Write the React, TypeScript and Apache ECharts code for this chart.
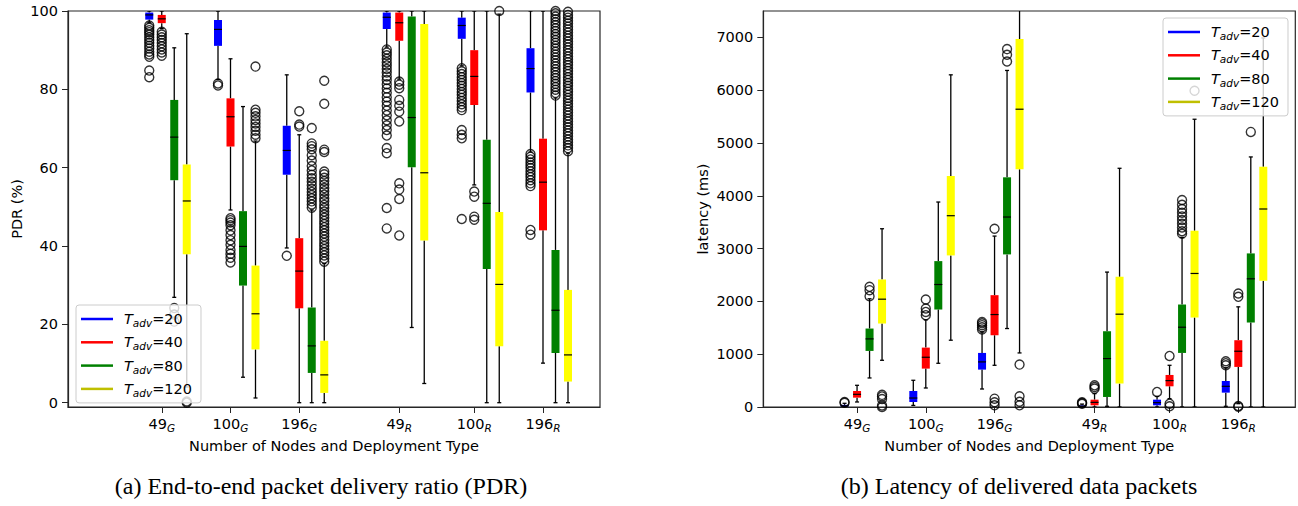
import React, { useEffect, useRef } from 'react';
import * as echarts from 'echarts';

// ---------- categories / positions ----------
const groupNums = ['49', '100', '196', '49', '100', '196'];
const groupSubs = ['G', 'G', 'G', 'R', 'R', 'R'];
const groupPos = [7.5, 13, 18.5, 26.5, 32.5, 38];
const seriesOffset = [-1, 0, 1, 2];
const tadv = ['20', '40', '80', '120'];
const boxColors = ['#0000ff', '#ff0000', '#008000', '#ffff00'];
const legendColors = ['#0000ff', '#ff0000', '#008000', '#bfbf00'];
const pdrTicks = [0, 20, 40, 60, 80, 100];
const latTicks = [0, 1000, 2000, 3000, 4000, 5000, 6000, 7000];

// ---------- PDR (%) boxes: [low, q1, median, q3, high] per group ----------
const pdrBox20 = [
  [97.0, 97.8, 99.0, 99.6, 100],
  [82.5, 91.1, 95.3, 97.7, 100],
  [39.5, 58.2, 64.4, 70.7, 83.7],
  [90.8, 95.4, 98.4, 99.6, 100],
  [86.0, 92.9, 96.3, 98.3, 100],
  [64.0, 79.2, 85.3, 90.5, 100],
];
const pdrBox40 = [
  [95.5, 96.9, 98.0, 99.0, 100],
  [49.2, 65.4, 73.0, 77.7, 87.8],
  [0, 24.1, 33.6, 42.0, 68.4],
  [82.6, 92.4, 97.0, 99.6, 100],
  [55.6, 76.0, 83.3, 90.0, 100],
  [10.1, 44.0, 56.3, 67.4, 100],
];
const pdrBox80 = [
  [26.9, 56.8, 67.8, 77.3, 90.6],
  [6.5, 29.9, 39.9, 48.9, 75.6],
  [0, 7.6, 14.5, 24.3, 49.2],
  [19.2, 60.1, 72.8, 98.6, 100],
  [0, 34.1, 50.9, 67.1, 100],
  [0, 12.7, 23.6, 39.0, 77.8],
];
const pdrBox120 = [
  [4.0, 37.9, 51.5, 60.8, 94.2],
  [1.2, 13.6, 22.7, 35.0, 66.8],
  [0, 2.5, 7.1, 15.8, 35.5],
  [4.9, 41.4, 58.7, 96.7, 100],
  [0, 14.4, 30.2, 48.7, 99.2],
  [0, 5.4, 12.2, 28.8, 63.7],
];

// ---------- PDR outliers per group ----------
const pdrOut20 = [
  [96.3, 95.7, 95.1, 94.6, 94.0, 93.3, 92.6, 91.9, 91.1, 90.4, 89.6, 88.9, 88.3, 84.8, 83.1],
  [81.5, 81.0],
  [37.5],
  [90.2, 89.4, 88.7, 87.8, 86.9, 86.1, 85.2, 84.3, 83.3, 82.4, 81.3, 80.2, 79.1, 78.0, 76.9, 75.8, 74.6, 73.4, 72.1, 70.8, 69.6, 68.2, 65.0, 63.7, 49.7, 44.5],
  [85.4, 84.6, 83.9, 83.1, 82.4, 81.6, 80.9, 80.1, 79.3, 78.6, 77.8, 77.0, 76.2, 75.4, 74.7, 69.6, 68.4, 67.5, 46.9],
  [63.5, 62.8, 62.1, 61.3, 60.6, 59.9, 59.1, 58.3, 57.6, 56.8, 56.0, 55.3, 44.1, 42.9],
];
const pdrOut40 = [
  [94.7, 94.0, 93.3, 92.6, 91.8, 91.0, 90.2, 89.4, 88.6],
  [47.1, 46.6, 46.0, 45.3, 44.0, 42.8, 41.5, 40.3, 39.0, 38.0, 37.0, 35.8],
  [74.4, 71.0, 70.5],
  [82.0, 81.2, 80.3, 77.3, 75.8, 74.3, 71.8, 56.0, 54.4, 52.0, 42.7],
  [53.9, 52.6, 47.5, 46.7],
  [],
];
const pdrOut80 = [
  [24.2, 22.5, 20.7],
  [],
  [70.1, 66.2, 65.5, 64.7, 63.2, 61.8, 60.4, 59.3, 58.2, 57.3, 56.4, 55.5, 54.6, 53.8, 53.0, 52.2, 51.4, 50.6, 49.8],
  [],
  [],
  [78.4, 79.1, 79.9, 80.6, 81.4, 82.1, 82.9, 83.6, 84.4, 85.1, 85.9, 86.6, 87.4, 88.1, 88.9, 89.6, 90.4, 91.1, 91.9, 92.6, 93.4, 94.1, 94.9, 95.6, 96.4, 97.1, 97.9, 98.6, 99.4, 100],
];
const pdrOut120 = [
  [0.0, 0.3],
  [85.8, 74.8, 74.0, 73.1, 72.2, 71.3, 70.4, 69.4, 68.4, 67.5],
  [82.2, 76.3, 64.6, 64.0, 59.0, 58.3, 57.4, 56.6, 55.7, 54.8, 54.0, 53.1, 52.2, 51.4, 50.5, 49.7, 48.8, 48.0, 47.2, 46.4, 45.6, 44.8, 44.0, 43.2, 42.4, 41.6, 40.8, 40.0, 39.2, 38.4, 37.6, 36.8, 36.0],
  [],
  [100],
  [64.2, 65.0, 65.7, 66.5, 67.2, 68.0, 68.8, 69.5, 70.3, 71.0, 71.8, 72.5, 73.3, 74.1, 74.8, 75.6, 76.3, 77.1, 77.8, 78.6, 79.4, 80.1, 80.9, 81.6, 82.4, 83.1, 83.9, 84.7, 85.4, 86.2, 86.9, 87.7, 88.4, 89.2, 90.0, 90.7, 91.5, 92.2, 93.0, 93.7, 94.5, 95.3, 96.0, 96.8, 97.5, 98.3, 99.0, 99.8],
];

// ---------- Latency (ms) boxes ----------
const latBox20 = [
  [0, 8, 20, 40, 70],
  [30, 95, 170, 303, 506],
  [341, 708, 854, 1024, 1420],
  [0, 5, 15, 30, 55],
  [0, 32, 82, 139, 200],
  [13, 272, 392, 493, 740],
];
const latBox40 = [
  [95, 177, 240, 303, 411],
  [360, 727, 942, 1125, 1650],
  [790, 1359, 1751, 2118, 3237],
  [0, 32, 88, 139, 253],
  [158, 392, 500, 607, 790],
  [63, 759, 1056, 1265, 1897],
];
const latBox80 = [
  [550, 1062, 1290, 1486, 2050],
  [828, 1846, 2320, 2763, 3882],
  [1486, 2890, 3598, 4350, 6374],
  [13, 190, 917, 1435, 2555],
  [0, 1024, 1511, 1941, 3212],
  [0, 1600, 2428, 2909, 4736],
];
const latBox120 = [
  [885, 1581, 2042, 2415, 3376],
  [1265, 2871, 3623, 4375, 6291],
  [1024, 4502, 5640, 6968, 7700],
  [0, 443, 1758, 2466, 4521],
  [0, 1695, 2529, 3339, 5450],
  [0, 2390, 3750, 4552, 6990],
];

// ---------- Latency outliers ----------
const latOut20 = [[80, 95], [], [1470, 1510, 1550, 1585, 1612], [60, 75, 90], [285], [790, 830, 866]];
const latOut40 = [[], [1739, 1800, 1865, 2036], [3376, 158, 90, 32], [348, 380, 411], [967, 63, 13], [2087, 2150, 20, 5]];
const latOut80 = [[2099, 2213, 2276], [], [6544, 6671, 6778], [], [3280, 3330, 3400, 3470, 3540, 3610, 3680, 3750, 3830, 3920], [5210]];
const latOut120 = [[0, 30, 150, 200, 230], [], [803, 202, 100, 32], [], [5990], []];

const pdrBoxes = [pdrBox20, pdrBox40, pdrBox80, pdrBox120];
const pdrOuts = [pdrOut20, pdrOut40, pdrOut80, pdrOut120];
const latBoxes = [latBox20, latBox40, latBox80, latBox120];
const latOuts = [latOut20, latOut40, latOut80, latOut120];

const FONT = 'DejaVu Sans';
const FS = 14.5;
const SUB_FS = 10.5;
const AXIS_COLOR = '#262626';
const BOX_W = 0.64;

const seriesName = (i: number) => 'T' + tadv[i];

const renderBox = (color: string) => (params: any, api: any) => {
  const x = api.value(0);
  const pLo = api.coord([x, api.value(1)]);
  const pQ1 = api.coord([x, api.value(2)]);
  const pMed = api.coord([x, api.value(3)]);
  const pQ3 = api.coord([x, api.value(4)]);
  const pHi = api.coord([x, api.value(5)]);
  const w = api.size([BOX_W, 0])[0];
  const cx = pLo[0];
  const st = { stroke: '#000', lineWidth: 1.3 };
  return {
    type: 'group',
    children: [
      { type: 'line', shape: { x1: cx, y1: pLo[1], x2: cx, y2: pQ1[1] }, style: st },
      { type: 'line', shape: { x1: cx, y1: pQ3[1], x2: cx, y2: pHi[1] }, style: st },
      { type: 'line', shape: { x1: cx - w / 4, y1: pLo[1], x2: cx + w / 4, y2: pLo[1] }, style: st },
      { type: 'line', shape: { x1: cx - w / 4, y1: pHi[1], x2: cx + w / 4, y2: pHi[1] }, style: st },
      { type: 'rect', shape: { x: cx - w / 2, y: pQ3[1], width: w, height: pQ1[1] - pQ3[1] }, style: { fill: color } },
      { type: 'line', shape: { x1: cx - w / 2, y1: pMed[1], x2: cx + w / 2, y2: pMed[1] }, style: { stroke: '#000', lineWidth: 1.2 } },
    ],
  };
};

function buildSeries(panel: number, boxes: number[][][], outs: number[][][]) {
  const list: any[] = [];
  for (let s = 0; s < 4; s++) {
    const data = groupPos.map((g, i) => [g + seriesOffset[s], ...boxes[s][i]]);
    list.push({
      type: 'custom',
      name: seriesName(s),
      xAxisIndex: panel,
      yAxisIndex: panel,
      clip: true,
      renderItem: renderBox(boxColors[s]),
      encode: { x: 0, y: [1, 2, 3, 4, 5] },
      itemStyle: { color: legendColors[s] },
      data,
    });
    const pts: number[][] = [];
    groupPos.forEach((g, i) => {
      outs[s][i].forEach((v) => pts.push([g + seriesOffset[s], v]));
    });
    list.push({
      type: 'scatter',
      name: seriesName(s),
      xAxisIndex: panel,
      yAxisIndex: panel,
      symbol: 'circle',
      symbolSize: 9,
      clip: false,
      itemStyle: { color: 'rgba(0,0,0,0)', borderColor: '#000', borderWidth: 1.4 },
      emphasis: { disabled: true },
      data: pts,
    });
  }
  return list;
}

const xLabelFmt = (v: number) => {
  const i = groupPos.findIndex((g) => Math.abs(g - v) < 1e-6);
  return i < 0 ? '' : `{n|${groupNums[i]}}{s|${groupSubs[i]}}`;
};

const richX = {
  n: { fontFamily: FONT, fontSize: FS, lineHeight: 18, color: '#000' },
  s: { fontFamily: FONT, fontSize: SUB_FS, fontStyle: 'italic', lineHeight: 10, padding: [8, 0, 0, 0], color: '#000' },
};

const richLeg = {
  t: { fontFamily: FONT, fontSize: FS, fontStyle: 'italic', lineHeight: 18, color: '#000', padding: [0, 0, 0, 6] },
  s: { fontFamily: FONT, fontSize: SUB_FS, fontStyle: 'italic', lineHeight: 10, padding: [8, 0, 0, 0], color: '#000' },
  n: { fontFamily: FONT, fontSize: FS, lineHeight: 18, color: '#000' },
};

const legendData = tadv.map((t, i) => ({ name: seriesName(i), icon: 'rect', itemStyle: { color: legendColors[i] } }));

const makeLegend = (left: number, top: number) => ({
  show: true,
  orient: 'vertical',
  left,
  top,
  itemWidth: 32,
  itemHeight: 2.5,
  itemGap: 4.3,
  padding: [4.5, 9, 4.5, 5],
  backgroundColor: 'rgba(255,255,255,0.8)',
  borderColor: '#cccccc',
  borderWidth: 1,
  borderRadius: 3,
  selectedMode: false,
  data: legendData,
  formatter: (name: string) => `{t|T}{s|adv}{n|=${name.slice(1)}}`,
  textStyle: { rich: richLeg },
});

const makeX = (gridIndex: number) => ({
  type: 'value',
  gridIndex,
  min: 0,
  max: 42.56,
  name: 'Number of Nodes and Deployment Type',
  nameLocation: 'middle',
  nameGap: 30,
  nameTextStyle: { fontFamily: FONT, fontSize: FS, color: '#000' },
  axisLine: { show: true, onZero: false, lineStyle: { color: AXIS_COLOR, width: 1.2 } },
  axisTick: { show: true, customValues: groupPos, length: 6, lineStyle: { color: AXIS_COLOR, width: 1 } },
  axisLabel: { customValues: groupPos, margin: 8, formatter: xLabelFmt, rich: richX },
  splitLine: { show: false },
});

const makeY = (gridIndex: number, min: number, max: number, ticks: number[], name: string, nameGap: number) => ({
  type: 'value',
  gridIndex,
  min,
  max,
  name,
  nameLocation: 'middle',
  nameGap,
  nameTextStyle: { fontFamily: FONT, fontSize: FS, color: '#000' },
  axisLine: { show: true, onZero: false, lineStyle: { color: AXIS_COLOR, width: 1.2 } },
  axisTick: { show: true, customValues: ticks, length: 6, lineStyle: { color: AXIS_COLOR, width: 1 } },
  axisLabel: { customValues: ticks, margin: 10, fontFamily: FONT, fontSize: FS, color: '#000', formatter: (v: number) => String(v) },
  splitLine: { show: false },
});

export default function App() {
  const ref = useRef<HTMLDivElement>(null);
  useEffect(() => {
    const chart = echarts.init(ref.current!, null, { renderer: 'svg' });
    const option: any = {
      animation: false,
      backgroundColor: '#ffffff',
      grid: [
        { left: 68, top: 11, width: 532, height: 396, show: true, borderColor: AXIS_COLOR, borderWidth: 1.2, backgroundColor: 'transparent' },
        { left: 763.3, top: 11, width: 532, height: 396, show: true, borderColor: AXIS_COLOR, borderWidth: 1.2, backgroundColor: 'transparent' },
      ],
      xAxis: [makeX(0), makeX(1)],
      yAxis: [
        makeY(0, -1.1, 100, pdrTicks, 'PDR (%)', 44),
        makeY(1, 0, 7500, latTicks, 'latency (ms)', 53),
      ],
      legend: [makeLegend(76, 305), makeLegend(1163, 18)],
      series: [...buildSeries(0, pdrBoxes, pdrOuts), ...buildSeries(1, latBoxes, latOuts)],
      graphic: [
        {
          type: 'text',
          x: 321,
          y: 486,
          style: { text: '(a) End-to-end packet delivery ratio (PDR)', fontFamily: 'Liberation Serif', fontSize: 24, fill: '#000', align: 'center', verticalAlign: 'middle' },
        },
        {
          type: 'text',
          x: 1019,
          y: 486,
          style: { text: '(b) Latency of delivered data packets', fontFamily: 'Liberation Serif', fontSize: 24, fill: '#000', align: 'center', verticalAlign: 'middle' },
        },
      ],
    };
    chart.setOption(option);
    return () => chart.dispose();
  }, []);
  return <div ref={ref} style={{ position: 'absolute', left: 0, top: 0, width: 1298, height: 506 }} />;
}
